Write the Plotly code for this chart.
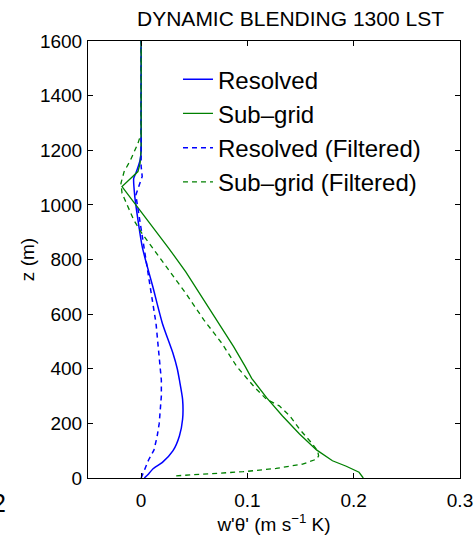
import plotly.graph_objects as go

# ---- data ----
z_res = [0, 15, 33, 57, 100, 154, 215, 288, 359, 400, 456, 566, 700, 800, 847, 945, 1031, 1097, 1116, 1164, 1200, 1300, 1400, 1500, 1600]
w_res = [0.003, 0.007, 0.011, 0.020, 0.030, 0.036, 0.039, 0.039, 0.036, 0.034, 0.030, 0.020, 0.011, 0.004, 0.001, -0.003, -0.006, -0.007, -0.005, -0.001, 0.0, 0.0, 0.0, 0.0, 0.0]

z_sgs = [0, 21, 43, 63, 103, 161, 227, 294, 365, 408, 481, 530, 572, 664, 755, 841, 920, 1000, 1067, 1104, 1122, 1152, 1200, 1300, 1400, 1500, 1600]
w_sgs = [0.209, 0.205, 0.193, 0.180, 0.165, 0.149, 0.133, 0.118, 0.104, 0.098, 0.087, 0.079, 0.072, 0.057, 0.042, 0.026, 0.011, -0.005, -0.018, -0.008, -0.003, -0.001, 0.0, 0.0, 0.0, 0.0, 0.0]

z_res_f = [0, 37, 66, 102, 151, 200, 240, 300, 359, 444, 566, 688, 835, 957, 1036, 1070, 1104, 1141, 1200, 1300, 1400, 1500, 1600]
w_res_f = [0.000, 0.004, 0.007, 0.012, 0.015, 0.017, 0.018, 0.019, 0.019, 0.017, 0.014, 0.009, 0.003, -0.002, -0.005, -0.002, 0.001, 0.000, 0.0, 0.0, 0.0, 0.0, 0.0]

z_sgs_f = [8, 15, 23, 35, 51, 69, 81, 100, 130, 179, 227, 264, 288, 331, 371, 408, 493, 579, 676, 762, 859, 900, 945, 970, 1006, 1043, 1079, 1122, 1164, 1225, 1262, 1300, 1400, 1500, 1600]
w_sgs_f = [0.033, 0.064, 0.096, 0.127, 0.152, 0.165, 0.167, 0.166, 0.160, 0.149, 0.140, 0.130, 0.118, 0.107, 0.098, 0.090, 0.076, 0.059, 0.042, 0.026, 0.008, 0.000, -0.007, -0.010, -0.014, -0.018, -0.019, -0.016, -0.010, -0.003, 0.000, 0.0, 0.0, 0.0, 0.0]

x_ticks = [0, 0.1, 0.2, 0.3]
x_ticktext = ["0", "0.1", "0.2", "0.3"]
y_ticks = [0, 200, 400, 600, 800, 1000, 1200, 1400, 1600]

BLUE = "#0000ff"
GREEN = "#008000"
FONT = "Liberation Sans, Arial, Helvetica, sans-serif"

fig = go.Figure()
fig.add_trace(go.Scatter(x=w_res, y=z_res, mode="lines", name="Resolved",
                         line=dict(color=BLUE, width=1.5, shape="spline", smoothing=0.6)))
fig.add_trace(go.Scatter(x=w_sgs, y=z_sgs, mode="lines", name="Sub–grid",
                         line=dict(color=GREEN, width=1.3)))
fig.add_trace(go.Scatter(x=w_res_f, y=z_res_f, mode="lines", name="Resolved (Filtered)",
                         line=dict(color=BLUE, width=1.5, dash="5px,4px")))
fig.add_trace(go.Scatter(x=w_sgs_f, y=z_sgs_f, mode="lines", name="Sub–grid (Filtered)",
                         line=dict(color=GREEN, width=1.3, dash="5px,4px")))

axis_common = dict(showline=True, linecolor="black", linewidth=1, mirror="ticks",
                   ticks="inside", ticklen=5, tickcolor="black", showgrid=False,
                   zeroline=False, automargin=False,
                   tickfont=dict(family=FONT, size=19, color="black"))

fig.update_layout(
    width=475, height=537,
    margin=dict(l=88, r=15, t=41, b=59),
    paper_bgcolor="white", plot_bgcolor="white",
    font=dict(family=FONT, color="black"),
    title=dict(text="DYNAMIC BLENDING 1300 LST", xref="container", x=0.6116, xanchor="center",
               yref="container", y=0.966, yanchor="middle",
               font=dict(family=FONT, size=21, color="black")),
    xaxis=dict(range=[-0.05, 0.3], tickvals=x_ticks, ticktext=x_ticktext,
               ticklabelstandoff=5,
               title=dict(text="w'θ' (m s<sup>−1</sup> K)", font=dict(family=FONT, size=19), standoff=4),
               **axis_common),
    yaxis=dict(range=[0, 1600], tickvals=y_ticks, ticklabelstandoff=1,
               title=dict(text="z (m)", font=dict(family=FONT, size=19), standoff=0),
               **axis_common),
    legend=dict(x=0.2419, y=0.963, xanchor="left", yanchor="top",
                bgcolor="rgba(0,0,0,0)", borderwidth=0,
                font=dict(family=FONT, size=24, color="black"),
                tracegroupgap=0),
    showlegend=True,
)

fig.add_annotation(text="2", xref="paper", yref="paper", x=-0.215, y=-0.0572,
                   xanchor="right", yanchor="middle", showarrow=False,
                   font=dict(family=FONT, size=25, color="black"))

fig.write_html("out.html", config={"displayModeBar": False},
               post_script="document.body.style.margin='0px';")
